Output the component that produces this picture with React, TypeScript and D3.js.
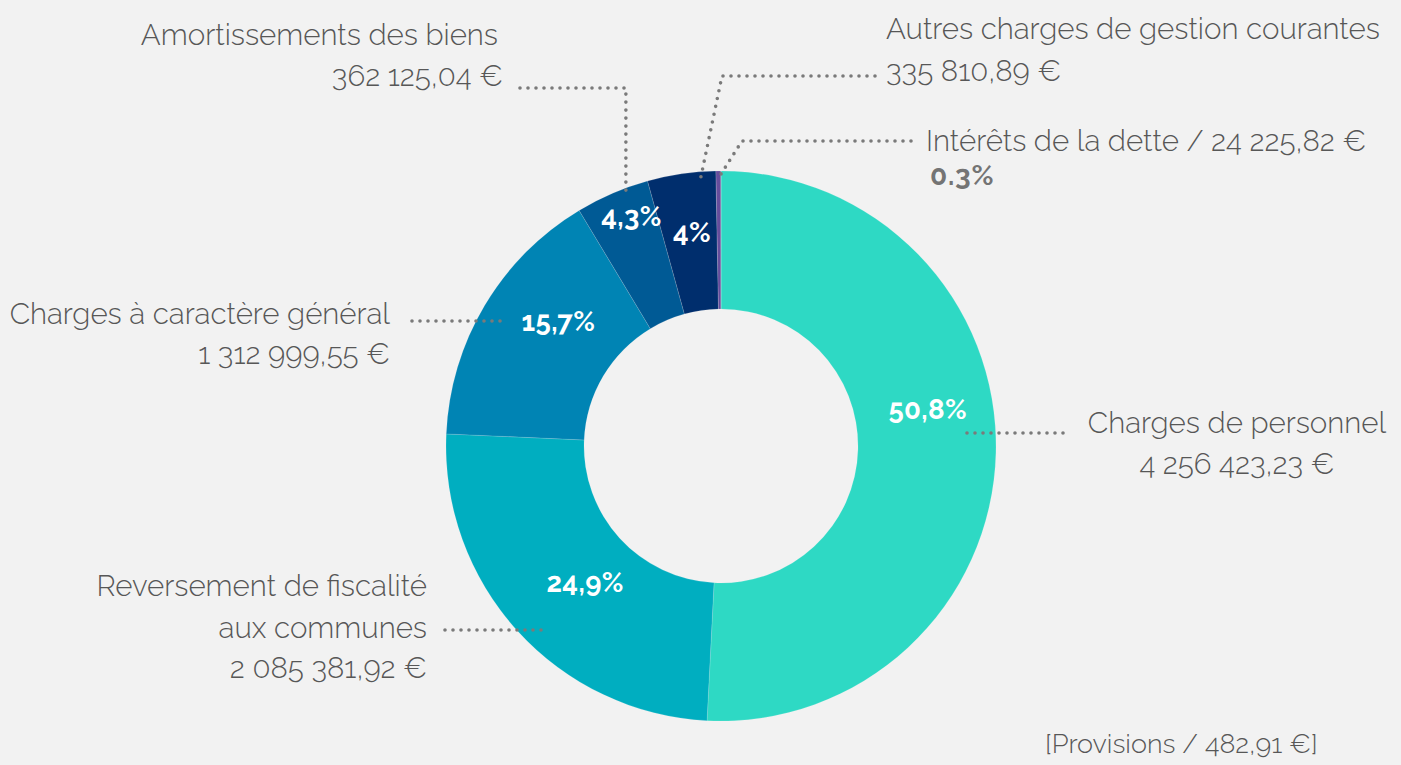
import { FC } from 'react';
import * as d3 from 'd3';

const categories = [
  'Charges de personnel',
  'Reversement de fiscalité aux communes',
  'Charges à caractère général',
  'Amortissements des biens',
  'Autres charges de gestion courantes',
  'Intérêts de la dette',
  'Provisions',
];
const amounts = [4256423.23, 2085381.92, 1312999.55, 362125.04, 335810.89, 24225.82, 482.91];
const percentLabels = ['50,8%', '24,9%', '15,7%', '4,3%', '4%', '0.3%', ''];
const colors = ['#2ed9c4', '#00aec0', '#0084b4', '#005a95', '#002e6d', '#654d9c', '#8a7cc0'];

const W = 1401;
const H = 765;
const cx = 721;
const cy = 446;
const outerR = 275;
const innerR = 137;

const textColor = '#575757';
const dotColor = '#7a7a7a';
const font = 'Raleway, Lato, "Open Sans", sans-serif';

const fr = d3.formatLocale({ decimal: ',', thousands: '\u00a0', grouping: [3], currency: ['', ' €'] });
const money = fr.format('$,.2f');

// label placement (layout only)
const pctPos = [
  { frac: 0.437, r: 210 },
  { frac: 0.47, r: 192 },
  { frac: 0.62, r: 205 },
  { frac: 0.63, r: 247 },
  { frac: 0.54, r: 216 },
];

const App: FC = () => {
  const pie = d3.pie<number>().sort(null).value(d => d);
  const arcs = pie(amounts);
  const arc = d3.arc<d3.PieArcDatum<number>>().innerRadius(innerR).outerRadius(outerR);

  const polar = (a: number, r: number): [number, number] => [cx + r * Math.sin(a), cy - r * Math.cos(a)];
  const at = (i: number, frac: number, r: number) => {
    const a = arcs[i];
    return polar(a.startAngle + (a.endAngle - a.startAngle) * frac, r);
  };

  const line = d3.line();
  const amort = at(3, 0.67, 270);
  const autres = at(4, 0.77, 268);
  const interets = at(5, 0.5, 268);

  const leaders: [number, number][][] = [
    [[1063, 433], [965, 433]],
    [[445, 630], [545, 630]],
    [[412, 321], [505, 321]],
    [[520, 88], [amort[0], 88], amort],
    [[875, 76], [722, 76], autres],
    [[911, 141], [742, 141], interets],
  ];

  const t = { fontFamily: font, fontSize: 29.5, fill: textColor, fontWeight: 300 } as const;

  return (
    <div style={{ position: 'fixed', left: 0, top: 0, width: W, height: H, background: '#f2f2f2' }}>
      <svg width={W} height={H}>
        <g transform={`translate(${cx},${cy})`}>
          {arcs.map((a, i) => (
            <path key={i} d={arc(a) || ''} fill={colors[i]} stroke="#f2f2f2" strokeOpacity={0.25} strokeWidth={0.6} />
          ))}
        </g>
        {leaders.map((pts, i) => (
          <path
            key={i}
            d={line(pts) || ''}
            fill="none"
            stroke={dotColor}
            strokeWidth={3.6}
            strokeLinecap="round"
            strokeDasharray="0 8"
          />
        ))}
        {pctPos.map((p, i) => {
          const [x, y] = at(i, p.frac, p.r);
          return (
            <text
              key={i}
              x={x}
              y={y}
              textAnchor="middle"
              dominantBaseline="central"
              fontFamily={font}
              fontWeight={700}
              fontSize={27.5}
              letterSpacing={0.4}
              fill="#ffffff"
            >
              {percentLabels[i]}
            </text>
          );
        })}

        {/* Charges de personnel */}
        <text {...t} x={1237} y={433} textAnchor="middle">{categories[0]}</text>
        <text {...t} x={1237} y={474} textAnchor="middle">{money(amounts[0])}</text>

        {/* Reversement */}
        <text {...t} x={427} y={596} textAnchor="end">Reversement de fiscalité</text>
        <text {...t} x={427} y={638} textAnchor="end">aux communes</text>
        <text {...t} x={427} y={678} textAnchor="end">{money(amounts[1])}</text>

        {/* Charges générales */}
        <text {...t} x={390} y={324} textAnchor="end">{categories[2]}</text>
        <text {...t} x={390} y={364} textAnchor="end">{money(amounts[2])}</text>

        {/* Amortissements */}
        <text {...t} x={498} y={45} textAnchor="end">{categories[3]}</text>
        <text {...t} x={503} y={86} textAnchor="end">{money(amounts[3])}</text>

        {/* Autres charges */}
        <text {...t} x={886} y={39}>{categories[4]}</text>
        <text {...t} x={886} y={81}>{money(amounts[4])}</text>

        {/* Intérêts */}
        <text {...t} x={926} y={151}>{`${categories[5]} / ${money(amounts[5])}`}</text>
        <text x={930} y={185} fontFamily={font} fontWeight={700} fontSize={28} letterSpacing={0.8} fill="#747474">
          {percentLabels[5]}
        </text>

        {/* Provisions */}
        <text {...t} x={1045} y={753} fontSize={27}>{`[${categories[6]} / ${money(amounts[6])}]`}</text>
      </svg>
    </div>
  );
};

export default App;
